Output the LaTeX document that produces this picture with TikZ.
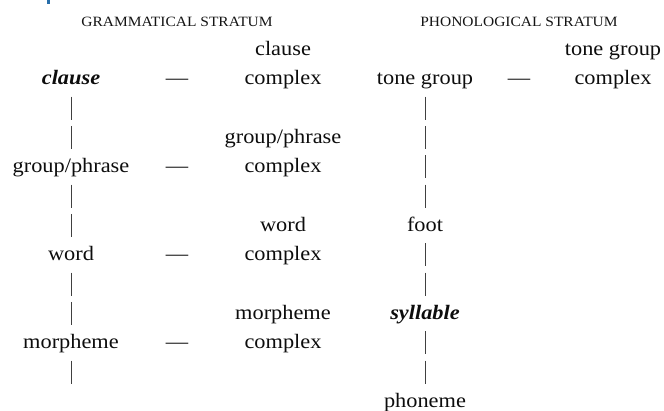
\documentclass[tikz,border=0pt]{standalone}
\usepackage{fontspec}
\setmainfont[FakeStretch=1.09]{Liberation Serif}
\definecolor{markblue}{RGB}{40,110,170}
\begin{document}
\begin{tikzpicture}[x=1pt,y=-1pt,
  lab/.style={anchor=base, inner sep=0pt, text=black!95, font=\fontsize{20.5}{23}\selectfont},
  keylab/.style={lab, font=\fontsize{20.5}{23}\selectfont\bfseries\itshape},
  head/.style={anchor=base, inner sep=0pt, text=black!92, font=\fontsize{14.2}{16}\selectfont},
  barline/.style={line width=0.9pt, draw=black!75},
]
\useasboundingbox (0,0) rectangle (664,410);
\fill[markblue] (47,0) rectangle (50,3.5);
% headers
\node[head] (hg) at (177,26) {GRAMMATICAL STRATUM};
\node[head] (hp) at (519,26) {PHONOLOGICAL STRATUM};
% row baselines: 55 + (k-1)*29.33
% grammatical stratum
\node[lab] (cc1) at (283,55) {clause};
\node[keylab] (cl) at (71,84.3) {clause};
\node[lab] (d1) at (177,84.3) {—};
\node[lab] (cc2) at (283,84.3) {complex};
\node[lab] (gc1) at (283,143) {group/phrase};
\node[lab] (gp) at (71,172.3) {group/phrase};
\node[lab] (d2) at (177,172.3) {—};
\node[lab] (gc2) at (283,172.3) {complex};
\node[lab] (wc1) at (283,231) {word};
\node[lab] (wd) at (71,260.3) {word};
\node[lab] (d3) at (177,260.3) {—};
\node[lab] (wc2) at (283,260.3) {complex};
\node[lab] (mc1) at (283,319) {morpheme};
\node[lab] (mo) at (71,348.3) {morpheme};
\node[lab] (d4) at (177,348.3) {—};
\node[lab] (mc2) at (283,348.3) {complex};
% phonological stratum
\node[lab] (tc1) at (613,55) {tone group};
\node[lab] (tg) at (425,84.3) {tone group};
\node[lab] (d5) at (519,84.3) {—};
\node[lab] (tc2) at (613,84.3) {complex};
\node[lab] (ft) at (425,231) {foot};
\node[keylab] (sy) at (425,319) {syllable};
\node[lab] (ph) at (425,407) {phoneme};
% vertical bars (one per text row)
\foreach \k in {3,4,6,7,9,10,12}{
  \draw[barline] (71,{55+(\k-1)*29.33-17}) -- ++(0,23);
}
\foreach \k in {3,4,5,6,8,9,11,12}{
  \draw[barline] (425,{55+(\k-1)*29.33-17}) -- ++(0,23);
}
\end{tikzpicture}
\end{document}
